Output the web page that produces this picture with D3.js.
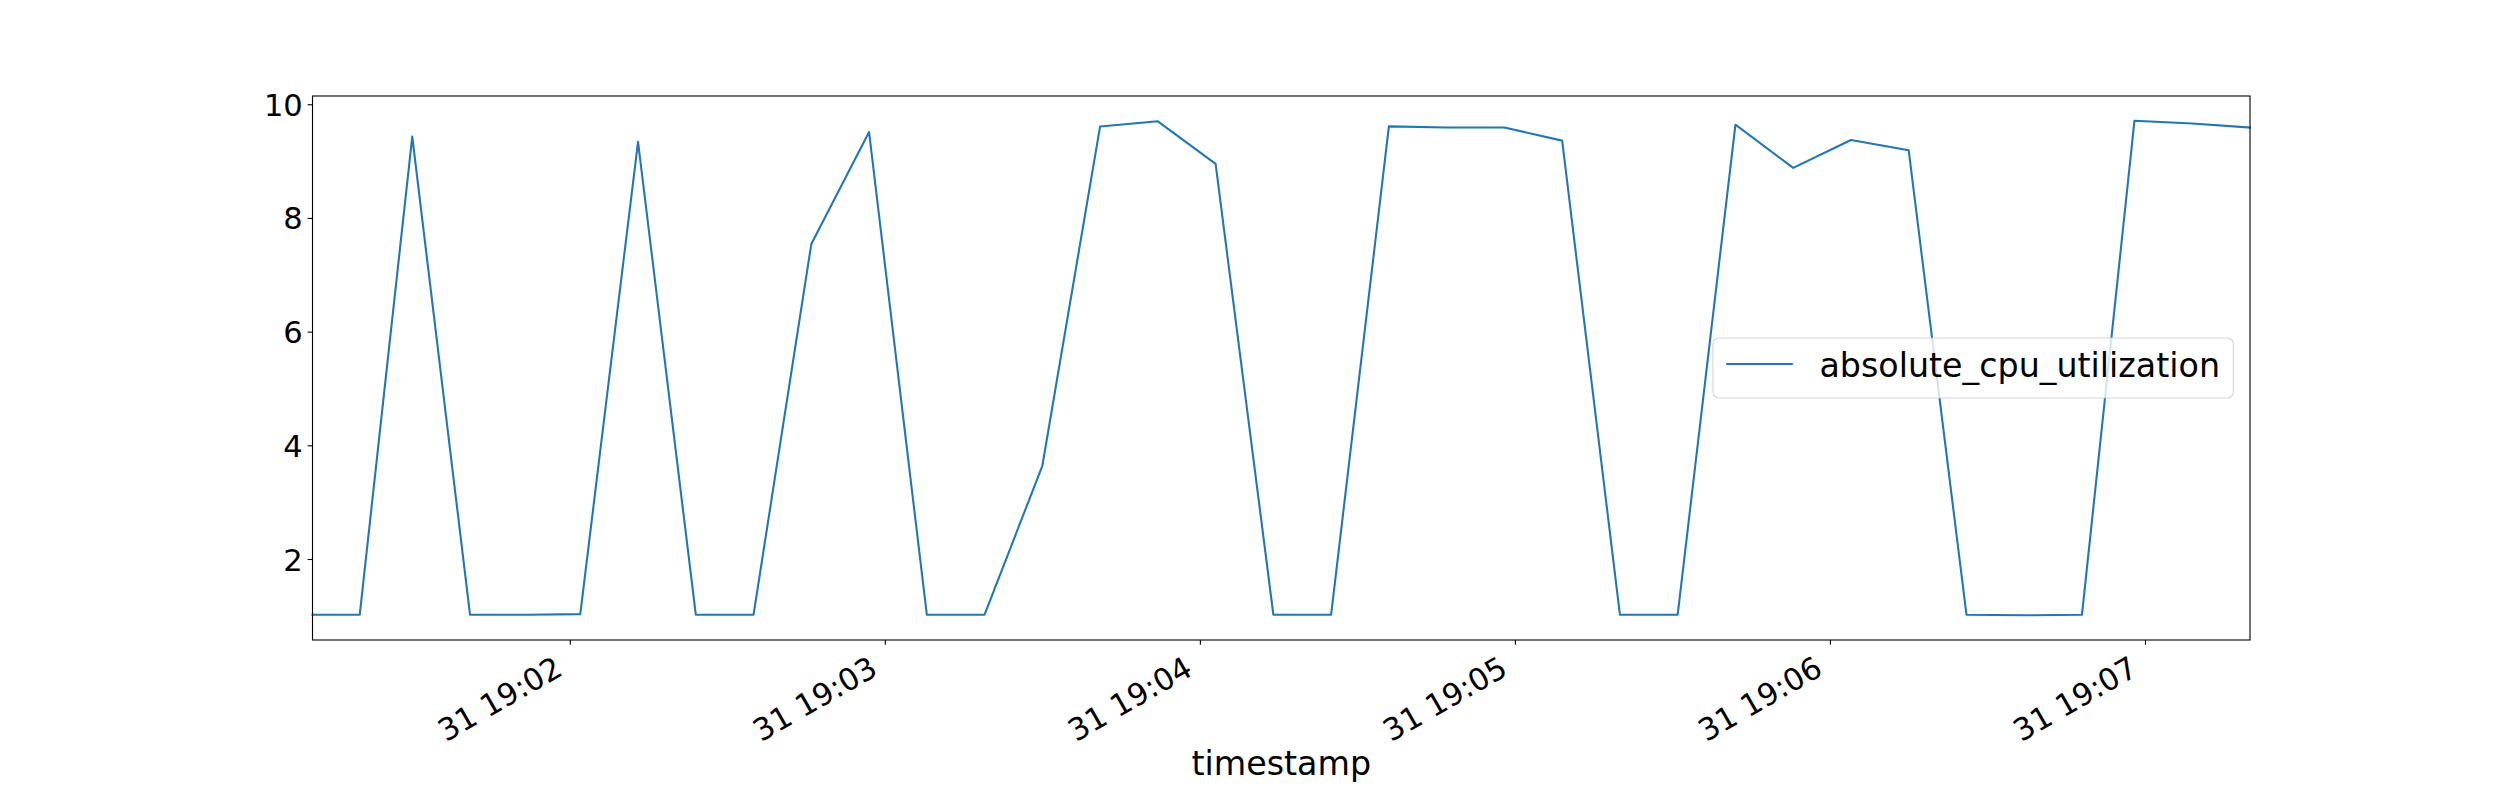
<!DOCTYPE html>
<html>
<head>
<meta charset="utf-8">
<script src="https://cdn.jsdelivr.net/npm/d3@7"></script>
<style>
  body { margin: 0; background: #ffffff; }
  svg { display: block; font-family: "DejaVu Sans", sans-serif; }
</style>
</head>
<body>
<div class="chart-container"></div>
<script>

// data (one sample roughly every 11 seconds)
const timestamps = ["19:01:11","19:01:20","19:01:30","19:01:41","19:01:52","19:02:02","19:02:13",
    "19:02:24","19:02:35","19:02:46","19:02:57","19:03:08","19:03:19","19:03:30","19:03:41",
    "19:03:52","19:04:03","19:04:14","19:04:25","19:04:36","19:04:47","19:04:58","19:05:09",
    "19:05:20","19:05:31","19:05:42","19:05:53","19:06:04","19:06:15","19:06:26","19:06:37",
    "19:06:48","19:06:58","19:07:09","19:07:20"];
const cpuValues = [1.02, 1.02, 9.43, 1.02, 1.02, 1.03, 9.34,
    1.02, 1.02, 7.54, 9.51, 1.02, 1.02, 3.64, 9.61,
    9.70, 8.95, 1.02, 1.02, 9.61, 9.59, 9.59, 9.36,
    1.02, 1.02, 9.64, 8.88, 9.37, 9.19, 1.02, 1.01,
    1.02, 9.71, 9.66, 9.59];
const yTickValues = [2, 4, 6, 8, 10];
const seriesName = "absolute_cpu_utilization";
const xLabel = "timestamp";
const day = "2019-12-31";

// width, height og margin (matplotlib-agtig placering)
const width = 2500, height = 800;
const margin = {top: 96, right: 250, bottom: 160, left: 312.5};
const w = width - margin.left - margin.right;
const h = height - margin.top - margin.bottom;
const fontFamily = "'DejaVu Sans', sans-serif";
const tickFont = 30.56; // 22pt

const parseTime = d3.utcParse("%Y-%m-%d %H:%M:%S");
const dataset = timestamps.map((t, i) => ({time: parseTime(day + " " + t), value: cpuValues[i]}));

const svg = d3.select(".chart-container")
    .append("svg")
    .attr("width", width)
    .attr("height", height);

svg.append("rect")
    .attr("width", width)
    .attr("height", height)
    .attr("fill", "#ffffff");

const g = svg.append("g")
    .attr("transform", "translate(" + margin.left + "," + margin.top + ")");

// scales - x er tæt på data, y har 5% margin
const xScale = d3.scaleUtc()
    .domain(d3.extent(dataset, d => d.time))
    .range([0, w]);

const yMin = d3.min(dataset, d => d.value), yMax = d3.max(dataset, d => d.value);
const pad = (yMax - yMin) * 0.05;
const yScale = d3.scaleLinear()
    .domain([yMin - pad, yMax + pad])
    .range([h, 0]);

// line
const line = d3.line()
    .x(d => xScale(d.time))
    .y(d => yScale(d.value));

g.append("path")
    .datum(dataset)
    .attr("fill", "none")
    .attr("stroke", "#1f77b4")
    .attr("stroke-width", 2.08)
    .attr("stroke-linejoin", "round")
    .attr("stroke-linecap", "square")
    .attr("d", line);

// y-axis
const yAxis = g.append("g")
    .classed("y-axis", true)
    .call(d3.axisLeft(yScale).tickValues(yTickValues).tickSize(4.86).tickPadding(4.86).tickFormat(d3.format("d")))
    .attr("font-family", fontFamily)
    .attr("font-size", tickFont + "px");

yAxis.selectAll(".tick line").attr("stroke", "#000").attr("stroke-width", 1.1);
yAxis.selectAll(".tick text")
    .attr("fill", "#000")
    .attr("dy", "0.36em");

// x-axis, ticks hvert minut
const xAxis = g.append("g")
    .classed("x-axis", true)
    .attr("transform", "translate(0," + h + ")")
    .call(d3.axisBottom(xScale).ticks(d3.utcMinute.every(1)).tickSize(4.86).tickFormat(d3.utcFormat("%d %H:%M")))
    .attr("font-family", fontFamily)
    .attr("font-size", tickFont + "px");

xAxis.selectAll(".tick line").attr("stroke", "#000").attr("stroke-width", 1.1);
// roteret 30 grader, højrestillet ved tick
xAxis.selectAll(".tick text")
    .attr("fill", "#000")
    .attr("y", null)
    .attr("dy", null)
    .attr("text-anchor", "end")
    .attr("transform", "translate(-6,34) rotate(-30)");

// fjerner domain-linjer, spines tegnes som en ramme
g.selectAll(".domain").remove();
g.append("rect")
    .attr("width", w)
    .attr("height", h)
    .attr("fill", "none")
    .attr("stroke", "#000")
    .attr("stroke-width", 1.1);

// x label
svg.append("text")
    .attr("x", margin.left + w / 2)
    .attr("y", 775)
    .attr("text-anchor", "middle")
    .attr("font-size", "33.3px")
    .attr("fill", "#000")
    .text(xLabel);

// legend - center right
const fs = 33.3;
const legend = g.append("g").classed("legend", true);
const legendBox = legend.append("rect");
const legendText = legend.append("text")
    .attr("font-size", fs + "px")
    .attr("fill", "#000")
    .text(seriesName);
const textW = legendText.node().getComputedTextLength();
const boxW = 0.4 * fs + 2 * fs + 0.8 * fs + textW + 0.4 * fs;
const boxH = 60;
const boxX = w - 0.5 * fs - boxW;
const boxY = h / 2 - boxH / 2;

legendBox
    .attr("x", boxX)
    .attr("y", boxY)
    .attr("width", boxW)
    .attr("height", boxH)
    .attr("rx", 6)
    .attr("fill", "#ffffff")
    .attr("fill-opacity", 0.8)
    .attr("stroke", "#cccccc")
    .attr("stroke-opacity", 0.8)
    .attr("stroke-width", 1.1);

legend.append("line")
    .attr("x1", boxX + 0.4 * fs)
    .attr("x2", boxX + 0.4 * fs + 2 * fs)
    .attr("y1", boxY + boxH / 2 - 4)
    .attr("y2", boxY + boxH / 2 - 4)
    .attr("stroke", "#1f77b4")
    .attr("stroke-width", 2.08);

legendText
    .attr("x", boxX + 0.4 * fs + 2 * fs + 0.8 * fs)
    .attr("y", boxY + boxH / 2 + 9);

</script>
</body>
</html>
